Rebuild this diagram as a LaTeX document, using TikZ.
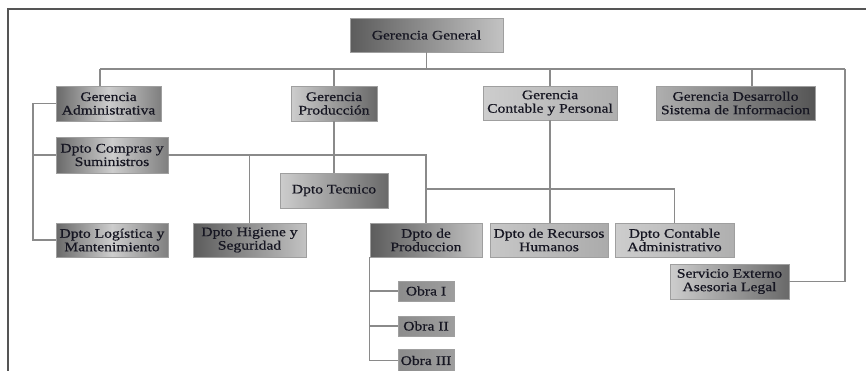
\documentclass[tikz,border=0pt]{standalone}
\usepackage{fontspec}
\setmainfont{Liberation Serif}[FakeStretch=1.2,FakeBold=0.7]
\definecolor{lineg}{RGB}{138,138,138}
\definecolor{frameg}{RGB}{85,85,85}
\definecolor{txt}{RGB}{22,22,34}
\definecolor{gA}{RGB}{92,92,92}
\definecolor{gB}{RGB}{105,105,105}
\definecolor{gL}{RGB}{205,205,205}
\definecolor{gM}{RGB}{175,175,175}
\definecolor{gD}{RGB}{85,85,85}
\tikzset{
  orgnode/.style={draw=gray!75, line width=0.9pt, inner sep=0pt, align=center,
    text=txt, font=\fontsize{13}{13.5}\selectfont},
  darkleft/.style={left color=gA, right color=gL!95!black},
  edgedark/.style={left color=gB, right color=gB!85!white, middle color=gL},
  lightleft/.style={left color=gL, right color=gB},
  lightdev/.style={left color=gM, right color=gD},
  lightpale/.style={left color=gL, right color=gM},
  lightflat/.style={left color=gL!97!black, right color=gM!105!white},
  obrabox/.style={left color=gray!80!black!75, right color=gM!90!black},
  conn/.style={draw=lineg, line width=1.3pt},
}
\newcommand\orgbox[7]{%
  \node[orgnode,#6,minimum width={(#4-#2)*1pt},minimum height={(#5-#3)*1pt}]
    (#1) at ({(#2+#4)/2},{(#3+#5)/2}) {#7};}
\begin{document}
\begin{tikzpicture}[x=1pt,y=-1pt]
\useasboundingbox (0,0) rectangle (866,370);
% frame
\draw[frameg, line width=1.3pt] (8,372) -- (8,9) -- (868,9);
% boxes
\orgbox{GG}{350}{18}{503}{52}{darkleft}{Gerencia General}
\orgbox{GA}{56}{86}{161}{121}{edgedark}{Gerencia\\Administrativa}
\orgbox{GP}{291}{86}{377}{121}{lightleft}{Gerencia\\Producción}
\orgbox{GC}{483}{86}{617}{120}{lightpale}{Gerencia\\Contable y Personal}
\orgbox{GD}{656}{86}{815}{120}{lightdev}{Gerencia Desarrollo\\Sistema de Informacion}
\orgbox{Comp}{56}{137}{168}{173}{edgedark}{Dpto Compras y\\Suministros}
\orgbox{Tec}{280}{173}{388}{208}{lightleft}{Dpto Tecnico}
\orgbox{Log}{56}{223}{168}{257}{edgedark}{Dpto Logística y\\Mantenimiento}
\orgbox{Hig}{193}{223}{306}{257}{darkleft}{Dpto Higiene y\\Seguridad}
\orgbox{DProd}{370}{223}{482}{257}{darkleft}{Dpto de\\Produccion}
\orgbox{RRHH}{490}{223}{608}{257}{lightflat}{Dpto de Recursos\\Humanos}
\orgbox{CAdm}{615}{223}{734}{257}{lightpale}{Dpto Contable\\Administrativo}
\orgbox{Serv}{670}{264}{789}{299}{lightleft}{Servicio Externo\\Asesoria Legal}
\orgbox{O1}{398}{281}{454}{301}{obrabox}{Obra I}
\orgbox{O2}{398}{316}{454}{336}{obrabox}{Obra II}
\orgbox{O3}{398}{349}{454}{372}{obrabox}{Obra III}
% helper coordinates
\coordinate (busL) at (100,69);
\coordinate (busR) at (845,69);
\coordinate (gdx) at (752,69);
\coordinate (admx) at (33,0);
\coordinate (midy) at (0,189);
% connectors
\draw[conn] (busL) -- (busR);
\draw[conn] (GG.south) -- (GG.south |- busL);
\draw[conn] (busL) -- (busL |- GA.north);
\draw[conn] (GP.north) -- (GP.north |- busL);
\draw[conn] (GC.north) -- (GC.north |- busL);
\draw[conn] (gdx) -- (gdx |- GD.north);
\draw[conn] (busR) |- (Serv.east);
\draw[conn] (GA.west) -- (GA.west -| admx) |- (Log.west);
\draw[conn] (Comp.west) -- (Comp.west -| admx);
\draw[conn] (Comp.east) -| (DProd.north);
\draw[conn] (Hig.north) -- (Hig.north |- Comp.east);
\draw[conn] (GP.south) -- (Tec.north);
\draw[conn] (DProd.north |- midy) -| (CAdm.north);
\draw[conn] (GC.south) -- (GC.south |- RRHH.north);
\draw[conn] (DProd.south west) -- (DProd.south west |- O3.west);
\draw[conn] (O1.west) -- (O1.west -| DProd.south west);
\draw[conn] (O2.west) -- (O2.west -| DProd.south west);
\draw[conn] (O3.west) -- (O3.west -| DProd.south west);
\end{tikzpicture}
\end{document}
